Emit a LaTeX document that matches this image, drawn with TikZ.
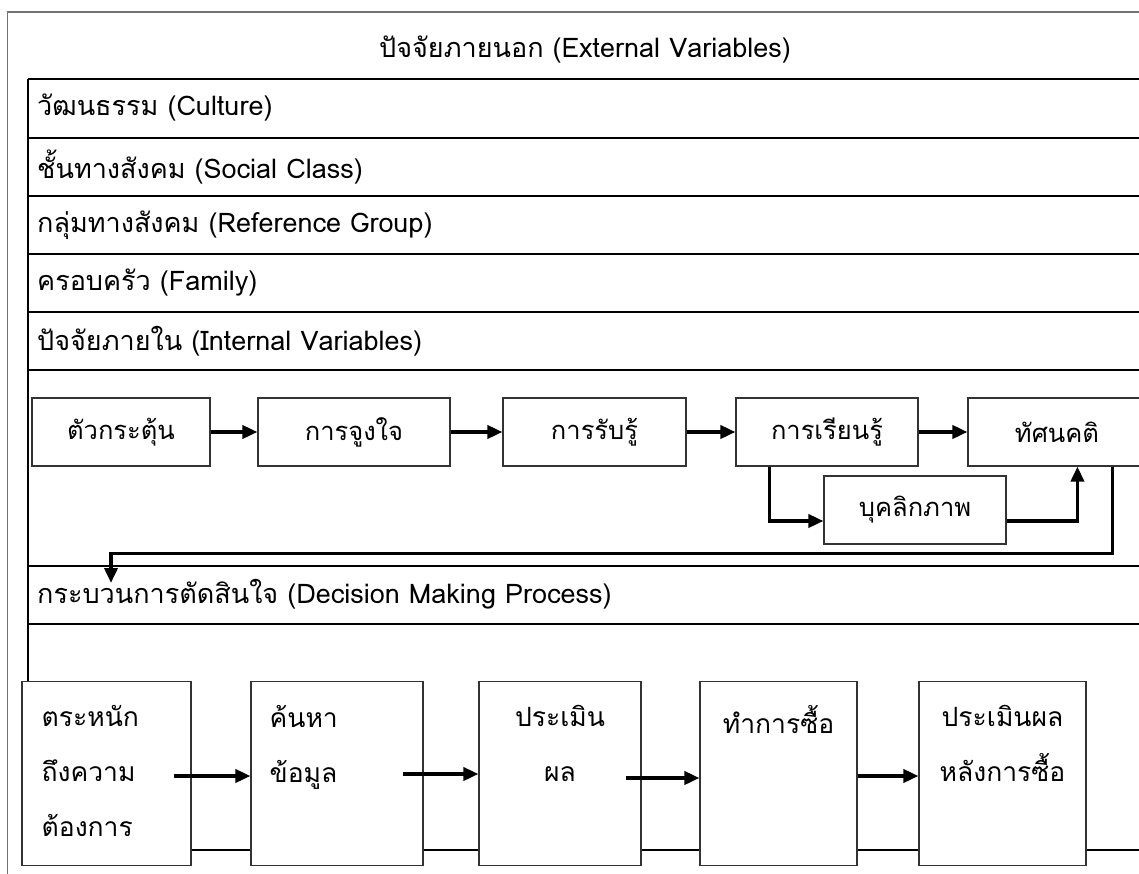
\documentclass[tikz,border=0pt]{standalone}
\usepackage{fontspec}
\setmainfont[Script=Thai]{Loma}
\usetikzlibrary{arrows.meta,positioning}

\begin{document}
\begin{tikzpicture}[
  x=1pt, y=-1pt,
  font=\fontsize{27}{32}\selectfont,
  frame/.style={draw=black!55, line width=1.3pt},
  rule/.style={draw=black, line width=1.9pt},
  lbl/.style={anchor=west, inner sep=0pt},
  ibox/.style={draw=black!80, line width=1.1pt, fill=white, minimum height=68pt,
               minimum width=#1, inner sep=0pt, font=\fontsize{25.5}{30}\selectfont},
  ibox/.default=182pt,
  dbox/.style={draw=black!80, line width=1.1pt, fill=white, minimum height=184pt,
               minimum width=#1, inner sep=0pt},
  dtxt/.style={inner sep=0pt, font=\fontsize{26.5}{55}\selectfont},
  flow/.style={-{Triangle[length=15pt,width=13pt]}, draw=black, line width=3.6pt},
]
\useasboundingbox (0,0) rectangle (1139,874);

%============================ FRAME AND ROWS ============================
\draw[frame] (7.5,874) -- (7.5,12) -- (1139,12);
\draw[rule] (28,79) -- (28,682);
\foreach \y in {79,138,196,254,312,370,566,624}
  \draw[rule] (28,\y) -- (1139,\y);
\draw[rule, line width=1.6pt] (22,850) -- (1139,850);

\node (ext) at (585,50) {ปัจจัยภายนอก (External Variables)};
\node[lbl] (cul) at (37,108) {วัฒนธรรม (Culture)};
\node[lbl] (soc) at (37,167) {ชั้นทางสังคม (Social Class)};
\node[lbl] (ref) at (37,225) {กลุ่มทางสังคม (Reference Group)};
\node[lbl] (fam) at (37,283) {ครอบครัว (Family)};
\node[lbl] (int) at (37,341) {ปัจจัยภายใน (Internal Variables)};
\node[lbl] (dmp) at (37,594) {กระบวนการตัดสินใจ (Decision Making Process)};

%============================ INTERNAL VARIABLES ============================
\node[ibox=178pt] (b1) at (121,432) {ตัวกระตุ้น};
\node[ibox=192pt] (b2) at (354,432) {การจูงใจ};
\node[ibox=183pt] (b3) at (594.5,432) {การรับรู้};
\node[ibox=182pt] (b4) at (827,432) {การเรียนรู้};
\node[ibox=178pt] (b5) at (1057,432) {ทัศนคติ};
\node[ibox=182pt] (pers) at (915,510) {บุคลิกภาพ};

\foreach \a/\b in {b1/b2, b2/b3, b3/b4, b4/b5}
  \draw[flow] (\a) -- (\b);

\draw[flow] ([xshift=34pt]b4.south west) |- ([yshift=-11pt]pers.west);
\draw[flow] ([yshift=-11pt]pers.east) -| ([xshift=110pt]b5.south west);

% back down into the decision process
\coordinate (dmk) at (111,583);
\draw[flow] ([xshift=145pt]b5.south west) -- ++(0,87) -| (dmk);

%============================ DECISION MAKING ============================
\node[dbox=169pt] (d1) at (106.5,773.5) {};
\node[dbox=172pt] (d2) at (337,773.5) {};
\node[dbox=162pt] (d3) at (560,773.5) {};
\node[dbox=157pt] (d4) at (778.5,773.5) {};
\node[dbox=167pt] (d5) at (1002.5,773.5) {};

\node[dtxt, align=left, anchor=north west] (t1) at ([xshift=20pt,yshift=-24pt]d1.north west)
  {ตระหนัก\\ถึงความ\\ต้องการ};
\node[dtxt, align=left, anchor=north west] (t2) at ([xshift=19pt,yshift=-24pt]d2.north west)
  {ค้นหา\\ข้อมูล};
\node[dtxt, align=center, anchor=north] (t3) at ([yshift=-24pt]d3.north) {ประเมิน\\ผล};
\node[dtxt, align=center, anchor=north] (t4) at ([yshift=-24pt]d4.north) {ทำการซื้อ};
\node[dtxt, align=center, anchor=north] (t5) at ([yshift=-24pt]d5.north) {ประเมินผล\\หลังการซื้อ};

\draw[flow] ([xshift=-18pt,yshift=-2.5pt]d1.east) -- ([yshift=-2.5pt]d2.west);
\draw[flow] ([xshift=-21pt,yshift=-0.5pt]d2.east) -- ([yshift=-0.5pt]d3.west);
\draw[flow] ([xshift=-16pt,yshift=-4.5pt]d3.east) -- ([yshift=-4.5pt]d4.west);
\draw[flow] ([yshift=-2.5pt]d4.east) -- ([yshift=-2.5pt]d5.west);

\end{tikzpicture}
\end{document}
